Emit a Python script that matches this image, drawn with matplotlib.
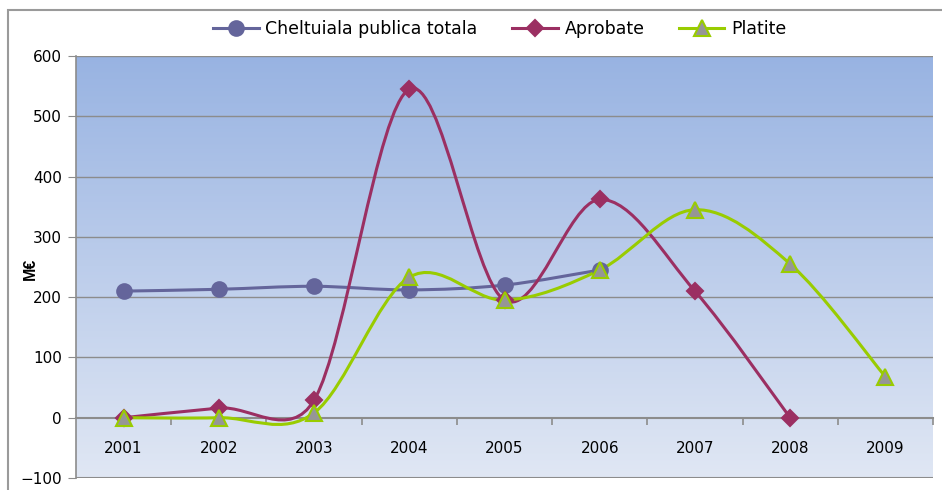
import matplotlib.pyplot as plt
import numpy as np
from matplotlib.path import Path
from matplotlib.patches import PathPatch, Rectangle
from matplotlib.lines import Line2D

years = ["2001", "2002", "2003", "2004", "2005", "2006", "2007", "2008", "2009"]
cheltuiala = [210, 213, 218, 212, 220, 245]
aprobate = [0, 16, 29, 545, 195, 362, 210, 0]
platite = [0, 0, 8, 233, 195, 245, 345, 255, 68]

C_CHELT = "#64659b"
C_APROB = "#9b2f62"
C_PLAT = "#99cc00"
GRID = "#8c8c8c"


def smooth_path(ax, xs, ys):
    # Excel-style smoothed line, computed in pixel space:
    # Bezier handles of 1/6 of the neighbour chord, clamped to half the segment
    pts = ax.transData.transform(np.column_stack([xs, ys]).astype(float))
    n = len(pts)
    verts = [pts[0]]
    codes = [Path.MOVETO]
    for i in range(n - 1):
        p0 = pts[max(i - 1, 0)]
        p1 = pts[i]
        p2 = pts[i + 1]
        p3 = pts[min(i + 2, n - 1)]
        seg = np.hypot(*(p2 - p1))
        t1 = p2 - p0
        t2 = p3 - p1
        f1 = 1 / 6
        f2 = 1 / 6
        if np.hypot(*t1) / 6 > seg / 2:
            f1 = seg / (2 * np.hypot(*t1))
        if np.hypot(*t2) / 6 > seg / 2:
            f2 = seg / (2 * np.hypot(*t2))
        verts += [p1 + f1 * t1, p2 - f2 * t2, p2]
        codes += [Path.CURVE4] * 3
    verts = ax.transData.inverted().transform(np.array(verts))
    return Path(verts, codes)


fig = plt.figure(figsize=(9.42, 4.9), dpi=100)
ax = fig.add_axes([76 / 942, 1 - 478 / 490, 857 / 942, 422 / 490])

x = np.arange(len(years))
ax.set_xlim(-0.5, len(years) - 0.5)
ax.set_ylim(-100, 600)

# gradient background
grad = np.linspace(0, 1, 256).reshape(-1, 1)
top = np.array([0x98, 0xb3, 0xe2]) / 255
bot = np.array([0xe0, 0xe7, 0xf4]) / 255
img = top[None, None, :] * (1 - grad[:, :, None]) + bot[None, None, :] * grad[:, :, None]
ax.imshow(img, extent=[-0.5, len(years) - 0.5, -100, 600], aspect="auto", zorder=0)

for yv in range(100, 700, 100):
    ax.axhline(yv, color=GRID, lw=1.0, zorder=1)
ax.axhline(-100, color=GRID, lw=1.5, zorder=1)

series = [
    (cheltuiala, C_CHELT, "o", C_CHELT, C_CHELT, 10.5, "Cheltuiala publica totala"),
    (aprobate, C_APROB, "D", C_APROB, C_APROB, 8, "Aprobate"),
    (platite, C_PLAT, "^", "#969696", C_PLAT, 11, "Platite"),
]
handles = []
for vals, col, mk, fc, ec, ms, lab in series:
    xs = x[: len(vals)]
    ax.add_patch(PathPatch(smooth_path(ax, xs, vals), fill=False, edgecolor=col,
                           lw=2.2, zorder=3, capstyle="round"))
    ax.plot(xs, vals, ls="none", marker=mk, ms=ms, mfc=fc, mec=ec,
            mew=1.5, zorder=4, clip_on=False)
    handles.append(Line2D([], [], color=col, lw=2.2, marker=mk, ms=ms,
                          mfc=fc, mec=ec, mew=1.5, label=lab))

# axes styling
for s in ["top", "right"]:
    ax.spines[s].set_visible(False)
ax.spines["left"].set_color(GRID)
ax.spines["left"].set_linewidth(1.2)
ax.spines["bottom"].set_position(("data", 0))
ax.spines["bottom"].set_color(GRID)
ax.spines["bottom"].set_linewidth(1.5)
ax.set_yticks(range(-100, 700, 100))
ax.tick_params(axis="y", length=6, color=GRID, labelsize=11, pad=4)
ax.set_xticks(x)
ax.set_xticklabels(years)
ax.set_xticks(np.arange(0.5, len(years) + 0.5, 1), minor=True)
ax.tick_params(axis="x", which="major", length=0, labelsize=11, pad=17)
ax.tick_params(axis="x", which="minor", length=5, width=1.2, color=GRID, direction="out")

fig.text(30 / 942, 1 - 269 / 490, "M€", rotation=90, ha="center", va="center",
         fontsize=11.5, fontweight="bold", family=["Liberation Sans", "DejaVu Sans"])

fig.legend(handles=handles, loc="center", bbox_to_anchor=(500 / 942, 1 - 29 / 490),
           ncol=3, frameon=False, handlelength=2.6, columnspacing=2.0,
           handletextpad=0.4, prop={"family": "DejaVu Sans", "size": 12.5})

# outer chart border
fig.add_artist(Rectangle((8 / 942, -0.1), 1.0, 1 - 10 / 490 + 0.1, transform=fig.transFigure,
                         fill=False, edgecolor="#9a9a9a", lw=1.5))

fig.savefig("out.png", dpi=100)
